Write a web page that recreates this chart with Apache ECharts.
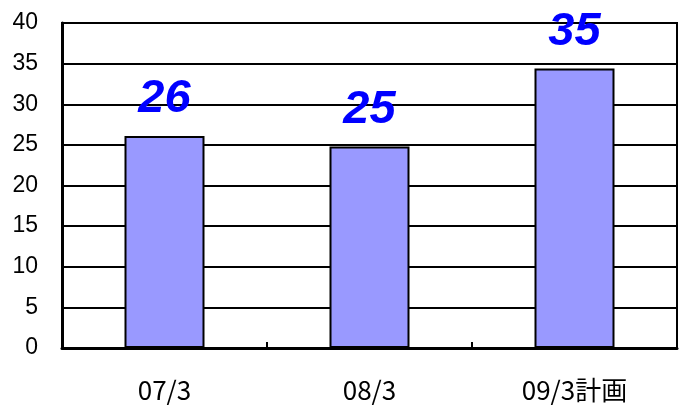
<!DOCTYPE html>
<html>
<head>
<meta charset="utf-8">
<script src="https://cdn.jsdelivr.net/npm/echarts@6/dist/echarts.min.js"></script>
<style>html,body{margin:0;padding:0;background:#fff;}#c{width:683px;height:411px;}</style>
</head>
<body>
<div id="c"></div>
<script>
const categories = ['07/3', '08/3', '09/3計画'];
const values = [26.1, 24.8, 34.4];
const valueLabels = ['26', '25', '35'];
const yMin = 0, yMax = 40, yStep = 5;

const chart = echarts.init(document.getElementById('c'), null, {renderer: 'canvas'});
chart.setOption({
  animation: false,
  backgroundColor: '#ffffff',
  grid: {left: 62, right: 6, top: 23, bottom: 63, show: true, borderColor: '#000', borderWidth: 2, backgroundColor: 'transparent'},
  xAxis: {
    type: 'category',
    data: categories,
    axisLine: {lineStyle: {color: '#000', width: 3}},
    axisTick: {show: true, inside: true, length: 6, alignWithLabel: false, lineStyle: {color: '#000', width: 2}},
    axisLabel: {color: '#000', fontSize: 26, fontFamily: '"Noto Sans CJK JP"', margin: 29}
  },
  yAxis: {
    type: 'value', min: yMin, max: yMax, interval: yStep,
    axisLine: {show: true, lineStyle: {color: '#000', width: 3}},
    axisTick: {show: false},
    splitLine: {lineStyle: {color: '#000', width: 2}},
    axisLabel: {color: '#000', fontSize: 23, fontFamily: '"Liberation Sans"', margin: 24}
  },
  series: [{
    type: 'bar',
    data: values,
    barWidth: 80,
    itemStyle: {color: '#9999FF', borderColor: '#000', borderWidth: 2},
    label: {
      show: true, position: 'top', distance: 13,
      formatter: p => valueLabels[p.dataIndex],
      color: '#0000FF', fontSize: 47, fontWeight: 'bold', fontStyle: 'italic',
      fontFamily: '"Liberation Sans"'
    }
  }]
});
</script>
</body>
</html>
